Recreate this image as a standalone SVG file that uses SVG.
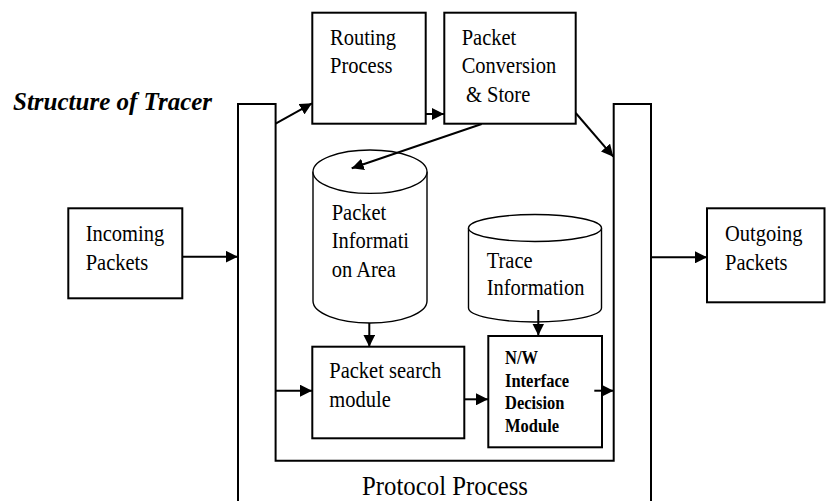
<svg xmlns="http://www.w3.org/2000/svg" width="826" height="501" viewBox="0 0 826 501">
  <style>
    .box { fill: #ffffff; stroke: #000000; stroke-width: 2; }
    .cyl { fill: #ffffff; stroke: #000000; stroke-width: 1.4; }
    .t { font-family: "Liberation Serif", "Times New Roman", serif; font-size: 20.5px; fill: #000000; }
    .tb { font-family: "Liberation Serif", "Times New Roman", serif; font-size: 16.5px; font-weight: bold; fill: #000000; }
    .edge { fill: none; stroke: #000000; stroke-width: 2; marker-end: url(#arr); }
  </style>
  <defs>
    <marker id="arr" markerUnits="userSpaceOnUse" markerWidth="13" markerHeight="12" refX="12" refY="6" orient="auto">
      <path d="M0,0 L12,6 L0,12 z" fill="#000000"/>
    </marker>
  </defs>
  <rect width="826" height="501" fill="#ffffff"/>

  <g id="title">
    <text x="13" y="110" font-family="'Liberation Serif', 'Times New Roman', serif" font-size="25" font-weight="bold" font-style="italic">Structure of Tracer</text>
  </g>

  <g id="protocol-process">
    <path d="M238,501 L238,104 L275.6,104 L275.6,460.7 L613.7,460.7 L613.7,104 L651,104 L651,501" fill="none" stroke="#000" stroke-width="2"/>
    <text class="t" x="362" y="495" style="font-size:24.8px" transform="matrix(1 0 0 1.12 0 -59.4)">Protocol Process</text>
  </g>

  <g id="routing-process">
    <rect class="box" x="312.3" y="12.7" width="113.4" height="111"/>
    <text class="t" x="330" y="45" transform="matrix(1 0 0 1.1 0 -4.5)">Routing</text>
    <text class="t" x="330" y="73.3" transform="matrix(1 0 0 1.1 0 -7.33)">Process</text>
  </g>

  <g id="packet-conversion">
    <rect class="box" x="444.3" y="12.7" width="131.4" height="111"/>
    <text class="t" x="461.7" y="45" transform="matrix(1 0 0 1.1 0 -4.5)">Packet</text>
    <text class="t" x="461.7" y="73.3" transform="matrix(1 0 0 1.1 0 -7.33)">Conversion</text>
    <text class="t" x="466" y="101.7" transform="matrix(1 0 0 1.1 0 -10.17)">&amp; Store</text>
  </g>

  <g id="incoming-packets">
    <rect class="box" x="68.3" y="208.3" width="114" height="90"/>
    <text class="t" x="85.7" y="241" transform="matrix(1 0 0 1.1 0 -24.1)">Incoming</text>
    <text class="t" x="85.7" y="270.5" transform="matrix(1 0 0 1.1 0 -27.05)">Packets</text>
  </g>

  <g id="outgoing-packets">
    <rect class="box" x="707" y="208.3" width="117.5" height="94"/>
    <text class="t" x="725" y="241.5" transform="matrix(1 0 0 1.1 0 -24.15)">Outgoing</text>
    <text class="t" x="725" y="270" transform="matrix(1 0 0 1.1 0 -27)">Packets</text>
  </g>

  <g id="packet-information-area">
    <path class="cyl" d="M313,171.7 L313,301 A57,22 0 0 0 427,301 L427,171.7"/>
    <ellipse class="cyl" cx="370" cy="171.7" rx="57" ry="21.7"/>
    <text class="t" x="331.7" y="220" transform="matrix(1 0 0 1.1 0 -22)">Packet</text>
    <text class="t" x="331.7" y="248.3" transform="matrix(1 0 0 1.1 0 -24.83)">Informati</text>
    <text class="t" x="331.7" y="276.7" transform="matrix(1 0 0 1.1 0 -27.67)">on Area</text>
  </g>

  <g id="trace-information">
    <path class="cyl" d="M468.5,228 L468.5,308 A66.5,14 0 0 0 601.5,308 L601.5,228"/>
    <ellipse class="cyl" cx="535" cy="228" rx="66.5" ry="13.5"/>
    <text class="t" x="486.7" y="268.3" transform="matrix(1 0 0 1.1 0 -26.83)">Trace</text>
    <text class="t" x="486.7" y="295" transform="matrix(1 0 0 1.1 0 -29.5)">Information</text>
  </g>

  <g id="packet-search-module">
    <rect class="box" x="312.3" y="346.7" width="152" height="91.6"/>
    <text class="t" x="329.3" y="378.3" transform="matrix(1 0 0 1.1 0 -37.83)">Packet search</text>
    <text class="t" x="329.3" y="406.7" transform="matrix(1 0 0 1.1 0 -40.67)">module</text>
  </g>

  <g id="nw-interface-decision-module">
    <rect class="box" x="488.3" y="336" width="113.7" height="111.3"/>
    <text class="tb" x="505" y="364.3" transform="matrix(1 0 0 1.18 0 -65.57)">N/W</text>
    <text class="tb" x="505" y="386.7" transform="matrix(1 0 0 1.18 0 -69.61)">Interface</text>
    <text class="tb" x="505" y="409.3" transform="matrix(1 0 0 1.18 0 -73.67)">Decision</text>
    <text class="tb" x="505" y="431.7" transform="matrix(1 0 0 1.18 0 -77.71)">Module</text>
  </g>

  <g id="connectors">
    <line class="edge" x1="182.3" y1="256.7" x2="237.7" y2="256.7"/>
    <line class="edge" x1="275.6" y1="123.7" x2="312" y2="103.3"/>
    <line class="edge" x1="425.7" y1="114" x2="444" y2="114"/>
    <line class="edge" x1="481.7" y1="124" x2="351.7" y2="168.3"/>
    <line class="edge" x1="575.7" y1="113" x2="613.3" y2="156.7"/>
    <line class="edge" x1="651" y1="257.3" x2="707" y2="257.3"/>
    <line class="edge" x1="369.3" y1="323" x2="369.3" y2="346.7"/>
    <line class="edge" x1="538.3" y1="310" x2="538.3" y2="335.5"/>
    <line class="edge" x1="275.6" y1="390.7" x2="312" y2="390.7"/>
    <line class="edge" x1="464.3" y1="399.3" x2="488" y2="399.3"/>
    <line class="edge" x1="594.3" y1="390.7" x2="613.5" y2="390.7"/>
  </g>
</svg>
